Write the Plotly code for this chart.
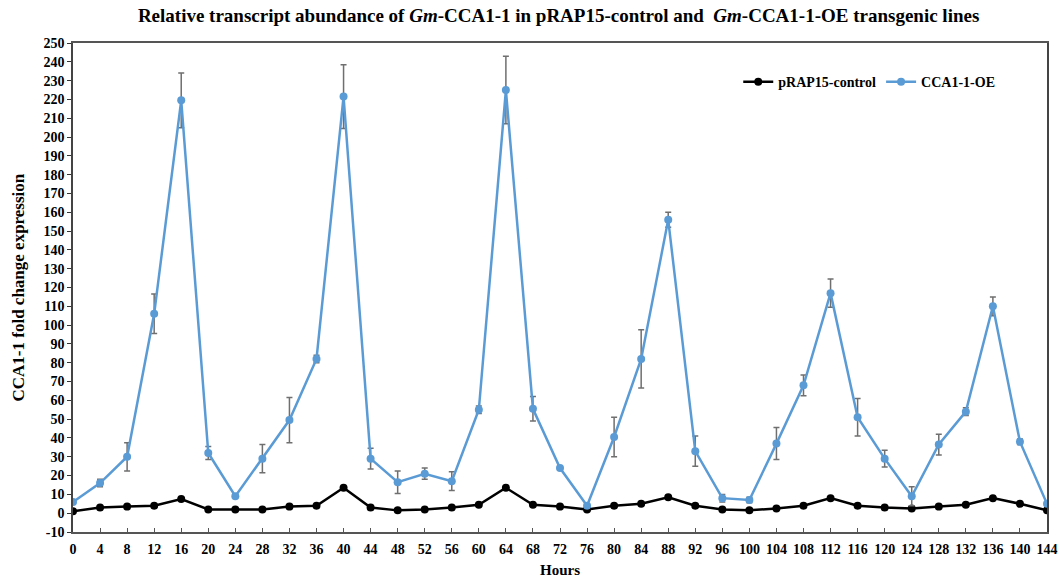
import plotly.graph_objects as go

hours = list(range(0, 145, 4))
control = [1, 3, 3.5, 4, 7.5, 2, 2, 2, 3.5, 4, 13.5, 3, 1.5, 2, 3, 4.5, 13.5, 4.5, 3.5, 2,
           4, 5, 8.5, 4, 2, 1.5, 2.5, 4, 8, 4, 3, 2.5, 3.5, 4.5, 8, 5, 1.5]
oe = [6, 16, 30, 106, 219.5, 32, 9, 29, 49.5, 82, 221.5, 29, 16.5, 21, 17, 55, 225, 55.5, 24, 4,
      40.5, 82, 156, 33, 8, 7, 37, 68, 117, 51, 29, 9, 36.5, 54, 110, 38, 5]
oe_err = [1, 2, 7.5, 10.5, 14.5, 3.5, 0.5, 7.5, 12, 2, 17, 5.5, 6, 3, 5, 2, 18, 6.5, 1, 1,
          10.5, 15.5, 4, 8, 2, 1.5, 8.5, 5.5, 7.5, 10, 4.5, 5, 5.5, 2, 5, 1.5, 1]

font_family = "Liberation Serif, Times New Roman, serif"

fig = go.Figure()
fig.add_trace(go.Scatter(
    x=hours, y=control, name="<b>pRAP15-control</b>", mode="lines+markers",
    line=dict(color="black", width=2.5), marker=dict(color="black", size=8)))
fig.add_trace(go.Scatter(
    x=hours, y=oe, name="<b>CCA1-1-OE</b>", mode="lines+markers",
    line=dict(color="#5B9BD5", width=2.5), marker=dict(color="#5B9BD5", size=8),
    error_y=dict(type="data", array=oe_err, visible=True, color="#6f6f6f",
                 thickness=1.5, width=3)))

fig.update_layout(
    width=1060, height=582,
    margin=dict(l=73, r=13, t=43, b=50),
    paper_bgcolor="white", plot_bgcolor="white",
    font=dict(family=font_family, color="black", size=14),
    title=dict(
        text="<b>Relative transcript abundance of <i>Gm</i>-CCA1-1 in pRAP15-control and  <i>Gm</i>-CCA1-1-OE transgenic lines</b>",
        x=0.527, xanchor="center", y=0.974, yanchor="middle",
        font=dict(size=19, family=font_family)),
    legend=dict(orientation="h", x=0.683, y=0.92, xanchor="left", yanchor="middle",
                font=dict(size=14, family=font_family), bgcolor="rgba(0,0,0,0)",
                itemwidth=30, traceorder="normal"),
    showlegend=True,
    annotations=[
        dict(text="<b>CCA1-1 fold change expression</b>", textangle=-90,
             xref="paper", yref="paper", x=-55 / 974, y=0.5,
             xanchor="center", yanchor="middle", showarrow=False,
             font=dict(size=17, family=font_family)),
        dict(text="<b>Hours</b>",
             xref="paper", yref="paper", x=0.5, y=-38 / 489,
             xanchor="center", yanchor="middle", showarrow=False,
             font=dict(size=15, family=font_family)),
    ],
)
fig.update_xaxes(
    range=[0, 144], tickvals=hours, ticktext=[f"<b>{h}</b>" for h in hours],
    ticks="inside", ticklen=4, tickcolor="#555555",
    showline=True, linecolor="#555555", linewidth=1.5, mirror=True,
    showgrid=False, zeroline=False, ticklabelstandoff=3, automargin=False,
    tickfont=dict(size=14))
fig.update_yaxes(
    range=[-10, 250], tickvals=list(range(-10, 251, 10)),
    ticktext=[f"<b>{v}</b>" for v in range(-10, 251, 10)],
    ticks="outside", ticklen=4, tickcolor="#333333",
    showline=True, linecolor="#444444", linewidth=1.5, mirror=True,
    showgrid=False, zeroline=False, automargin=False,
    tickfont=dict(size=14))

fig.write_html("out.html")
